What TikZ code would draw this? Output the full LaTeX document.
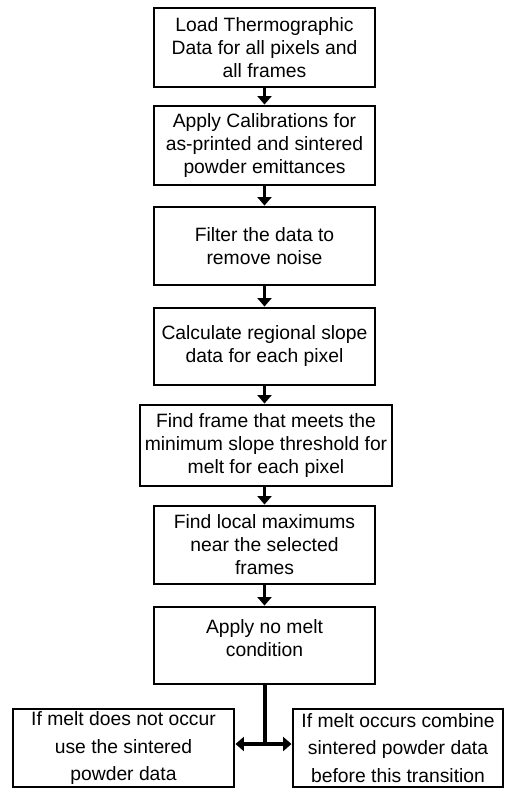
\documentclass[tikz,border=0pt]{standalone}
\usepackage{fontspec}
\setmainfont{Liberation Sans}
\usetikzlibrary{arrows.meta,calc}
\begin{document}
\begin{tikzpicture}[x=1pt,y=-1pt,
  box/.style={draw=black, line width=2.9pt, fill=white, inner sep=0pt, align=center,
    font=\fontsize{19.3}{23}\selectfont, text=black},
  lowbox/.style={box, font=\fontsize{19.3}{27.5}\selectfont},
  flow/.style={line width=3.8pt, -{Triangle[width=14pt,length=8.5pt]}}]
\useasboundingbox (0,0) rectangle (505,788);
\node[box, minimum width=221pt, minimum height=79pt] (b1) at (264.5,47.5)
  {Load Thermographic\\Data for all pixels and\\all frames};
\node[box, minimum width=221pt, minimum height=79pt] (b2) at (264.5,145.5)
  {Apply Calibrations for\\as-printed and sintered\\powder emittances};
\node[box, minimum width=221pt, minimum height=78pt] (b3) at (264.5,246)
  {Filter the data to\\remove noise};
\node[box, minimum width=221pt, minimum height=77pt] (b4) at (264.5,346.5)
  {Calculate regional slope\\data for each pixel};
\node[box, minimum width=252pt, minimum height=81pt] (b5) at (266,445.5)
  {Find frame that meets the\\minimum slope threshold for\\melt for each pixel};
\node[box, minimum width=221pt, minimum height=78pt] (b6) at (264.5,545)
  {Find local maximums\\near the selected\\frames};
\node[box, minimum width=221pt, minimum height=77pt] (b7) at (264.5,645.5)
  {Apply no melt\\condition\\[-15pt]\strut};
\node[lowbox, minimum width=221pt, minimum height=78pt] (bl) at (123.5,748)
  {If melt does not occur\\use the sintered\\powder data};
\node[lowbox, minimum width=210pt, minimum height=78pt] (br) at (398,748)
  {If melt occurs combine\\sintered powder data\\before this transition};
\draw[flow] (b1) -- (b2);
\draw[flow] (b2) -- (b3);
\draw[flow] (b3) -- (b4);
\draw[flow] (b4.south) -- (b4.south |- b5.north);
\draw[flow] (b5.south -| b6.north) -- (b6.north);
\draw[flow] (b6) -- (b7);
\coordinate (split) at (265,744);
\draw[line width=3.8pt] (b7.south -| split) -- (split);
\draw[flow] (split) -- (bl.east |- split);
\draw[flow] (split) -- (br.west |- split);
\end{tikzpicture}
\end{document}
